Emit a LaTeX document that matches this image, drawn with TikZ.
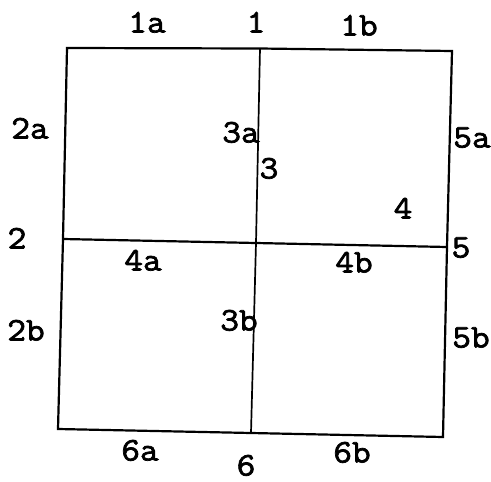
\documentclass[tikz,border=0pt]{standalone}
\usepackage{fontspec}
\newfontfamily\labfont[FakeBold=2.2,FakeStretch=1.1]{Latin Modern Mono}
\begin{document}
\begin{tikzpicture}[x=1pt,y=-1pt,
  lab/.style={font=\labfont\fontsize{33}{33}\selectfont, inner sep=0pt, text height=21pt, text depth=0pt, anchor=center},
  edge/.style={line width=2.2pt, line join=miter}]
\useasboundingbox (0,0) rectangle (491,482);
\coordinate (tl) at (67,48);
\coordinate (tm) at (260,48.5);
\coordinate (tr) at (452,51);
\coordinate (ml) at (63,239);
\coordinate (mm) at (256,243);
\coordinate (mr) at (447,247);
\coordinate (bl) at (58,429);
\coordinate (bm) at (251,433);
\coordinate (br) at (443,437);
\draw[edge] (tl) -- (tm) -- (tr) -- (mr) -- (br) -- (bm) -- (bl) -- (ml) -- cycle;
\draw[edge] (ml) -- (mm) -- (mr);
\draw[edge, line width=1.7pt] (tm) -- (mm) -- (bm);
\node[lab] (l1a) at (147,22) {1a};
\node[lab] (l1) at (256,22) {1};
\node[lab] (l1b) at (359,25) {1b};
\node[lab] (l2a) at (30,128) {2a};
\node[lab] (l3a) at (241,132) {3a};
\node[lab] (l5a) at (472,137) {5a};
\node[lab] (l3) at (269,168) {3};
\node[lab] (l4) at (403,208) {4};
\node[lab] (l2) at (17,238) {2};
\node[lab] (l5) at (461,247) {5};
\node[lab] (l4a) at (143,260) {4a};
\node[lab] (l4b) at (354,262) {4b};
\node[lab] (l3b) at (239,320) {3b};
\node[lab] (l2b) at (26,330) {2b};
\node[lab] (l5b) at (471,337) {5b};
\node[lab] (l6a) at (140,450) {6a};
\node[lab] (l6) at (246,465) {6};
\node[lab] (l6b) at (352,452) {6b};
\end{tikzpicture}
\end{document}
